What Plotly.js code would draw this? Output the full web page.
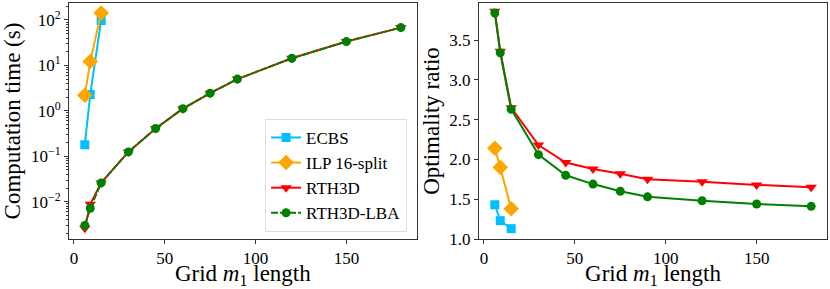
<!DOCTYPE html>
<html>
<head>
<meta charset="utf-8">
<script src="https://cdn.plot.ly/plotly-3.0.1.min.js"></script>
<style>
@font-face { font-family: "LibSerifX"; font-style: normal; font-weight: 400; src: local("Liberation Serif"), local("LiberationSerif"), local("Liberation Serif Regular"); }
@font-face { font-family: "LibSerifX"; font-style: italic; font-weight: 400; src: local("Liberation Serif Italic"), local("LiberationSerif-Italic"); }
html,body{margin:0;padding:0;background:#fff;}
#chart{width:830px;height:289px;}
svg text, svg tspan { font-family: "Liberation Serif", "LibSerifX", "Times New Roman", serif !important; }
</style>
</head>
<body>
<div id="chart"></div>
<script>
// ---- data ----
const gridAll = [6, 9, 15, 30, 45, 60, 75, 90, 120, 150, 180];
const gridSmall = [6, 9, 15];

const timeECBS = [0.18, 2.3, 98];
const timeILP = [2.2, 12.2, 143];
const timeRTH3D = [0.0026, 0.0088, 0.026, 0.125, 0.41, 1.12, 2.45, 5.0, 14.4, 33.5, 68];
const timeLBA = [0.0030, 0.0072, 0.026, 0.125, 0.41, 1.12, 2.45, 5.0, 14.4, 33.5, 68];

const ratioECBS = [1.43, 1.23, 1.13];
const ratioILP = [2.14, 1.90, 1.38];
const ratioRTH3D = [3.86, 3.36, 2.65, 2.18, 1.96, 1.88, 1.82, 1.75, 1.72, 1.68, 1.65];
const ratioLBA = [3.84, 3.34, 2.63, 2.06, 1.80, 1.69, 1.60, 1.53, 1.48, 1.44, 1.41];

const seriesNames = ["ECBS", "ILP 16-split", "RTH3D", "RTH3D-LBA"];
const logTickVals = [0.01, 0.1, 1, 10, 100];
const logTickText = ["10<sup>−2</sup>", "10<sup>−1</sup>", "10<sup>0</sup>", "10<sup>1</sup>", "10<sup>2</sup>"];
const ratioTickVals = [1.0, 1.5, 2.0, 2.5, 3.0, 3.5];
const xTickVals = [0, 50, 100, 150];

// ---- styles ----
var colEcbs = "#00BFFF", colIlp = "#FFA500", colRth = "#FF0000", colLba = "#008000";
var serifFam = "Liberation Serif";

function mkTrace(x, y, name, color, symbol, size, xa, ya, show, dash) {
  return {
    x: x, y: y, name: name, type: "scatter", mode: "lines+markers",
    xaxis: xa, yaxis: ya, showlegend: show,
    line: {color: color, width: 2, dash: dash || "solid"},
    marker: {color: color, symbol: symbol, size: size}
  };
}

const data = [
  mkTrace(gridSmall, timeECBS, seriesNames[0], colEcbs, "square", 9, "x", "y", true),
  mkTrace(gridSmall, timeILP, seriesNames[1], colIlp, "diamond", 12, "x", "y", true),
  mkTrace(gridAll, timeRTH3D, seriesNames[2], colRth, "triangle-down", 10, "x", "y", true),
  mkTrace(gridAll, timeLBA, seriesNames[3], colLba, "circle", 9, "x", "y", true, "7px,2px"),
  mkTrace(gridSmall, ratioECBS, seriesNames[0], colEcbs, "square", 9, "x2", "y2", false),
  mkTrace(gridSmall, ratioILP, seriesNames[1], colIlp, "diamond", 12, "x2", "y2", false),
  mkTrace(gridAll, ratioRTH3D, seriesNames[2], colRth, "triangle-down", 10, "x2", "y2", false),
  mkTrace(gridAll, ratioLBA, seriesNames[3], colLba, "circle", 9, "x2", "y2", false)
];

function baseAxis(extra) {
  const a = {
    showline: true, mirror: true, linecolor: "#333", linewidth: 1,
    ticks: "outside", ticklen: 4, tickcolor: "#333", showgrid: false, zeroline: false,
    tickfont: {family: serifFam, size: 17, color: "#000"}
  };
  return Object.assign(a, extra);
}
function titleFont() { return {family: serifFam, size: 23, color: "#000"}; }

const layout = {
  width: 830, height: 289,
  margin: {l: 69, r: 3, t: 3, b: 50},
  font: {family: serifFam, color: "#000"},
  xaxis: baseAxis({domain: [0, 0.4587], range: [-2.7, 188.7], tickvals: xTickVals,
    title: {text: "Grid <i>m</i><sub>1</sub> length", font: titleFont(), standoff: 3}}),
  yaxis: baseAxis({
    type: "log", range: [-2.82, 2.374], tickvals: logTickVals, ticktext: logTickText,
    minor: {ticks: "outside", ticklen: 2, tickcolor: "#333", dtick: "D1", showgrid: false},
    title: {text: "Computation time (s)", font: titleFont(), standoff: 3}
  }),
  xaxis2: baseAxis({domain: [0.5409, 1], range: [-2.7, 188.7], tickvals: xTickVals, anchor: "y2",
    title: {text: "Grid <i>m</i><sub>1</sub> length", font: titleFont(), standoff: 3}}),
  yaxis2: baseAxis({
    anchor: "x2", range: [1.0, 3.965], tickvals: ratioTickVals, tickformat: ".1f",
    title: {text: "Optimality ratio", font: titleFont(), standoff: 3}
  }),
  legend: {
    x: 0.446, xanchor: "right", y: 0.03, yanchor: "bottom",
    bgcolor: "#fff", bordercolor: "#ddd", borderwidth: 1,
    font: {family: serifFam, size: 17, color: "#000"},
    tracegroupgap: 0
  }
};

function draw() {
  Plotly.newPlot("chart", data, layout, {staticPlot: true});
}

let drawn = false;
function drawOnce() { if (!drawn) { drawn = true; draw(); } }
try {
  Promise.all([
    document.fonts.load('17px "LibSerifX"'),
    document.fonts.load('italic 17px "LibSerifX"'),
    document.fonts.load('17px "Liberation Serif"')
  ]).then(drawOnce, drawOnce);
  setTimeout(drawOnce, 400);
} catch (e) { drawOnce(); }
</script>
</body>
</html>
